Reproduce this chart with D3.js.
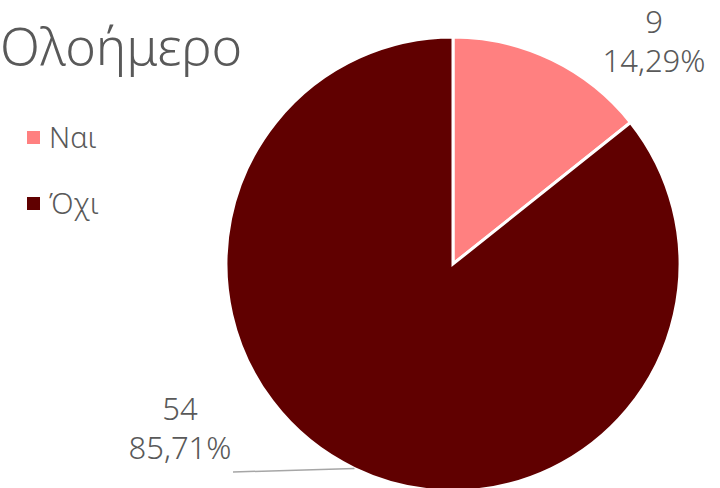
<!DOCTYPE html>
<html>
<head>
<meta charset="utf-8">
<script src="https://cdn.jsdelivr.net/npm/d3@7"></script>
<style>
  body { margin: 0; background: #fff; }
  text { font-family: "Noto Sans", "DejaVu Sans", sans-serif; fill: #595959; }
</style>
</head>
<body>
<div id="chart"></div>
<script>
// Ολοήμερο pie
var categories = ["Ναι", "Όχι"];
var values = [9, 54];
var percents = ["14,29%", "85,71%"];
var colors = ["#FF8080", "#600000"];

var width = 720, height = 488;
var cx = 453, cy = 264, radius = 227;

var svg = d3.select("#chart")
    .append("svg")
    .attr("width", width)
    .attr("height", height);

// title
svg.append("text")
    .attr("x", 0)
    .attr("y", 65)
    .style("font-size", "52px")
    .style("font-weight", 300)
    .text("Ολοήμερο");

var pie = d3.pie().sort(null).value(function(d){ return d; });
var arc = d3.arc().innerRadius(0).outerRadius(radius);

var g = svg.append("g")
    .attr("transform", "translate(" + cx + "," + cy + ")");

var arcs = pie(values);

g.selectAll("path.slice")
    .data(arcs)
    .enter().append("path")
    .attr("class", "slice")
    .attr("d", arc)
    .attr("fill", function(d, i){ return colors[i]; })
    .attr("stroke", "#fff")
    .attr("stroke-width", 3);

// leader line for the big slice, from the middle of its outer edge
var outerArc = d3.arc().innerRadius(radius).outerRadius(radius);
var p = outerArc.centroid(arcs[1]);
svg.append("line")
    .attr("x1", cx + p[0])
    .attr("y1", cy + p[1])
    .attr("x2", 233)
    .attr("y2", 472)
    .attr("stroke", "#A6A6A6")
    .attr("stroke-width", 1.5);

// data labels
var labelPos = [[654, 33, 72], [180, 420, 459]];
values.forEach(function(v, i){
    var t = svg.append("text")
        .attr("text-anchor", "middle")
        .style("font-size", "31px")
        .style("font-weight", 300);
    t.append("tspan").attr("x", labelPos[i][0]).attr("y", labelPos[i][1]).text(v);
    t.append("tspan").attr("x", labelPos[i][0]).attr("y", labelPos[i][2]).text(percents[i]);
});

// legend
var legend = svg.selectAll("g.legend")
    .data(categories)
    .enter().append("g")
    .attr("class", "legend")
    .attr("transform", function(d, i){ return "translate(27," + (131 + i * 66) + ")"; });

legend.append("rect")
    .attr("width", 13)
    .attr("height", 13)
    .attr("fill", function(d, i){ return colors[i]; });

legend.append("text")
    .attr("x", 22)
    .attr("y", 17)
    .style("font-size", "29px")
    .style("font-weight", 300)
    .text(function(d){ return d; });
</script>
</body>
</html>
